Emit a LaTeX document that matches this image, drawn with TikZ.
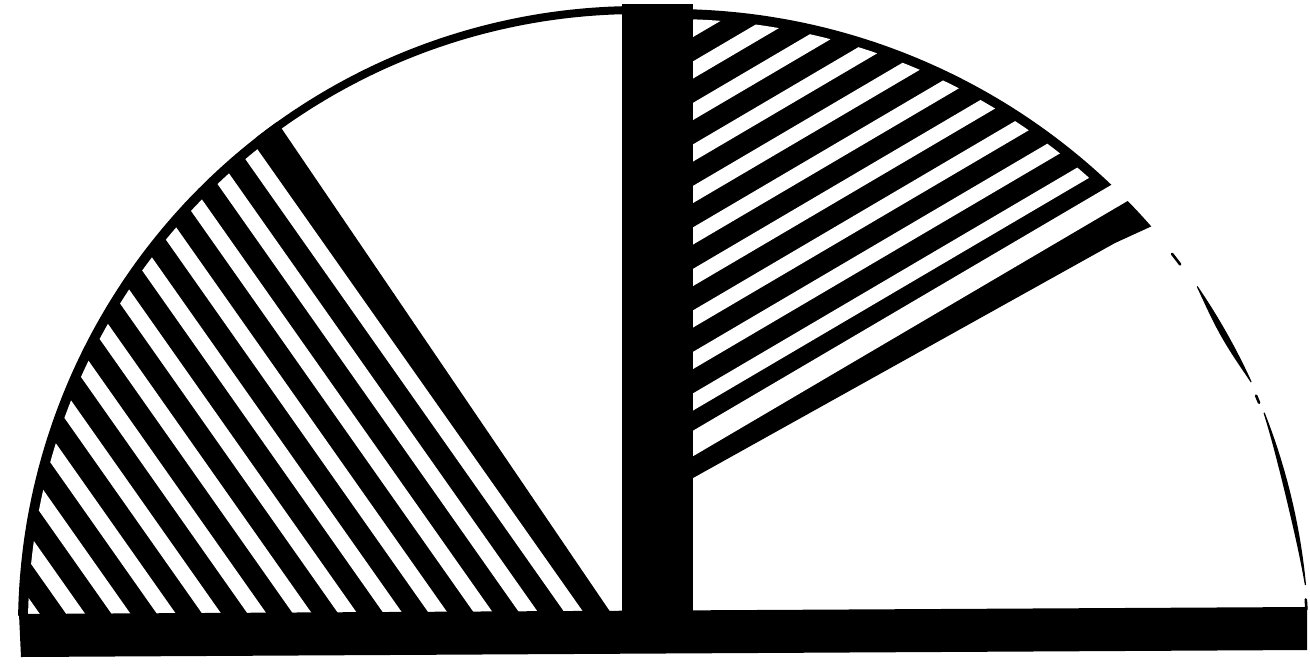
\documentclass[tikz,border=0pt]{standalone}
\tikzset{
  ink/.style={fill=black, draw=none},
  lgap/.style={draw=white, line width=15.5pt},
  rgap/.style={draw=white, line width=14.8pt},
  rim/.style={draw=black, line width=8pt},
  hair/.style={draw=black, line width=2.6pt, line cap=round},
}
\begin{document}
\begin{tikzpicture}[x=1pt,y=-1pt]
\useasboundingbox (0,0) rectangle (1310,665);
\fill[white] (0,0) rectangle (1310,665);

% left hatched sector (black ground)
\fill[ink] (19,616) -- plot[domain=-179:-125.6, samples=90] ({638+620*cos(\x)},{626+620*sin(\x)}) -- (613,616) -- cycle;

% white stripes of the left sector
\begin{scope}
  \clip (638,626) circle[radius=610];
  \clip (0,0) rectangle (1310,614);
  \foreach \k in {0,...,12}{
    \pgfmathsetmacro{\xa}{29+45.4*\k}
    \draw[lgap] (\xa+19.7,640) -- (\xa-431,0);
  }
\end{scope}

% thin arc over the left white sector
\draw[rim] plot[domain=-128:-89, samples=60] ({638+616*cos(\x)},{626+616*sin(\x)});

% right hatched sector (black ground)
\fill[ink] (680,478) -- (680,9) -- plot[domain=-89.5:-41.2, samples=90] ({672+637*cos(\x)},{646+637*sin(\x)}) -- (1115,243) -- (693,478) -- cycle;

% white stripes of the right sector
\begin{scope}
  \clip (693,0) rectangle (1310,665);
  \begin{scope}
    \clip (672,646) circle[radius=627];
    \foreach \k in {1,...,10}{
      \pgfmathsetmacro{\ya}{443.5-41.5*\k}
      \draw[rgap] (680,\ya+7.6) -- (1300,\ya-356.7);
    }
  \end{scope}
  \draw[rgap, line width=22pt] (680,451.1) -- (1200,145.6);
\end{scope}

% vertical bar
\fill[ink] (622,4) rectangle (693,616);

% base bar
\fill[ink] (19,614) -- (1307,607) -- (1307,650) -- (21,657) -- cycle;

% broken thin arc on the right
\draw[hair] plot[domain=-38.1:-36.9, samples=5] ({672+635.5*cos(\x)},{646+635.5*sin(\x)});
\fill[ink] plot[domain=-34.4:-24.5, samples=40] ({672+637*cos(\x)},{646+637*sin(\x)})
  -- plot[domain=-24.5:-34.4, samples=40] ({672+(636-5.5*sin(180*(\x+34.4)/9.9))*cos(\x)},{646+(636-5.5*sin(180*(\x+34.4)/9.9))*sin(\x)}) -- cycle;
\draw[hair] plot[domain=-23.2:-22.5, samples=5] ({672+635.5*cos(\x)},{646+635.5*sin(\x)});
\fill[ink] plot[domain=-21.5:-5.5, samples=50] ({672+637*cos(\x)},{646+637*sin(\x)})
  -- plot[domain=-5.5:-21.5, samples=50] ({672+(635.8-4*sin(180*(\x+21.5)/16))*cos(\x)},{646+(635.8-4*sin(180*(\x+21.5)/16))*sin(\x)}) -- cycle;
\draw[hair] plot[domain=-4.2:-3.3, samples=5] ({672+635.5*cos(\x)},{646+635.5*sin(\x)});
\end{tikzpicture}
\end{document}
